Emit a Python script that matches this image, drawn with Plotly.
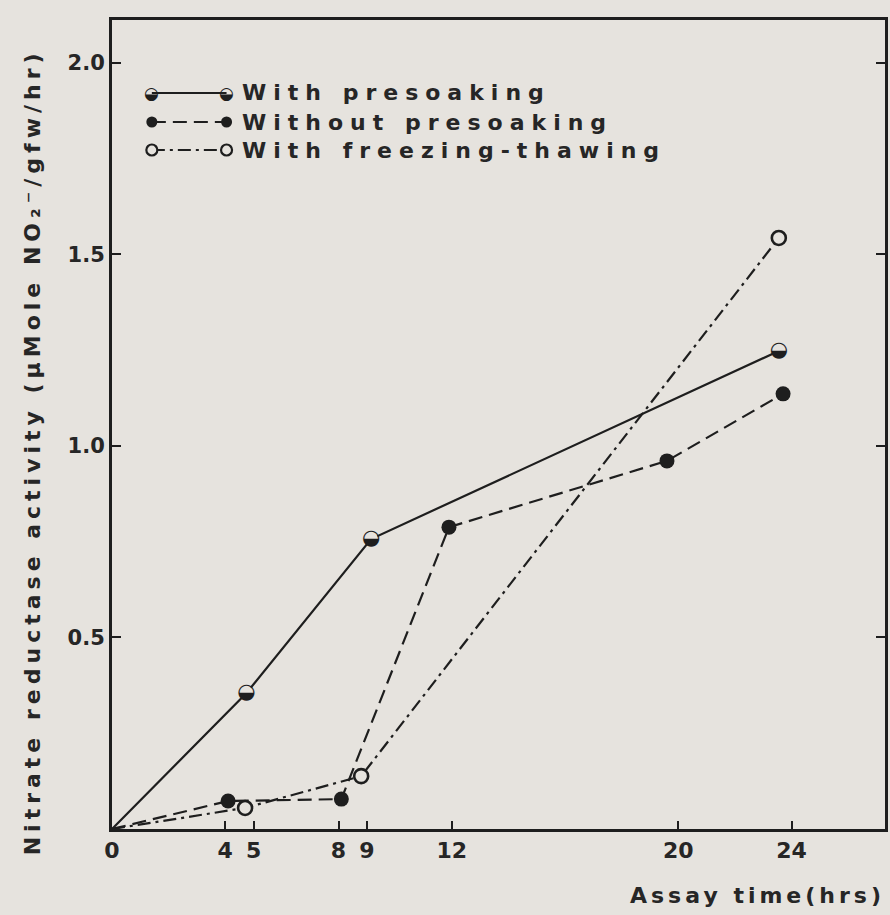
import plotly.graph_objects as go

# ---------------- data ----------------
series_names = ["With presoaking", "Without presoaking", "With freezing-thawing"]

pre_x = [0, 4.75, 9.15, 23.55]
pre_y = [0, 0.355, 0.757, 1.248]

wo_x = [0, 4.1, 8.1, 11.9, 19.6, 23.7]
wo_y = [0, 0.073, 0.078, 0.788, 0.961, 1.136]

fr_x = [0, 4.7, 8.8, 23.55]
fr_y = [0, 0.055, 0.138, 1.543]

x_tickvals = [0, 4, 5, 8, 9, 12, 20, 24]
x_ticktext = ["0", "4", "5", "8", "9", "12", "20", "24"]
y_tickvals = [0.5, 1.0, 1.5, 2.0]
y_ticktext = ["0.5", "1.0", "1.5", "2.0"]

x_title = "Assay time(hrs)"
y_title = "Nitrate reductase activity (μMole NO₂⁻/gfw/hr)"

# ---------------- style ----------------
BG = "#e6e3de"
INK = "#1e1e1e"
TXT = "#262626"
FONT = "DejaVu Sans"
DASH_WO = "14px,7px"
DASH_FR = "13px,5px,3px,5px"


def sizes(n, s):
    return [0] + [s] * (n - 1)


fig = go.Figure()

# With presoaking: solid line, half-filled circles
fig.add_trace(go.Scatter(
    x=pre_x, y=pre_y, mode="lines+markers", name=series_names[0],
    line=dict(color=INK, width=2.2),
    marker=dict(size=sizes(len(pre_x), 14), color=BG, opacity=1, line=dict(width=0)),
    showlegend=False, cliponaxis=False))
fig.add_trace(go.Scatter(
    x=pre_x[1:], y=pre_y[1:], mode="text",
    text=["◒"] * (len(pre_x) - 1), textposition="middle center",
    textfont=dict(family=FONT, size=21, color=INK),
    showlegend=False, hoverinfo="skip", cliponaxis=False))

# Without presoaking: dashed line, filled circles
fig.add_trace(go.Scatter(
    x=wo_x, y=wo_y, mode="lines+markers", name=series_names[1],
    line=dict(color=INK, width=2.2, dash=DASH_WO),
    marker=dict(size=sizes(len(wo_x), 15), color=INK, opacity=1,
                line=dict(width=0, color=INK)),
    showlegend=False, cliponaxis=False))

# With freezing-thawing: dash-dot line, open circles
fig.add_trace(go.Scatter(
    x=fr_x, y=fr_y, mode="lines+markers", name=series_names[2],
    line=dict(color=INK, width=2.2, dash=DASH_FR),
    marker=dict(size=sizes(len(fr_x), 14), color=BG, opacity=1,
                line=dict(width=2.6, color=INK)),
    showlegend=False, cliponaxis=False))

# ---------------- layout ----------------
L, R, T, B = 112, 2, 20, 86
W, H = 890, 915
PW, PH = W - L - R, H - T - B


def px(xp):
    return (xp - L) / PW


def py(yp):
    return (H - B - yp) / PH


shapes = []
annotations = []

# custom legend (markers at both ends of a short line sample)
rows = [93, 122, 150]
dashes = ["solid", DASH_WO, DASH_FR]
xl, xr, xt = 152, 227, 240
for i, (yy, dsh) in enumerate(zip(rows, dashes)):
    shapes.append(dict(type="line", xref="paper", yref="paper",
                       x0=px(xl), x1=px(xr), y0=py(yy), y1=py(yy),
                       line=dict(color=INK, width=2.2, dash=dsh)))
    for xx in (xl, xr):
        if i == 0:
            annotations.append(dict(text="◒", xref="paper", yref="paper",
                                    x=px(xx), y=py(yy), xanchor="center", yanchor="middle",
                                    showarrow=False, font=dict(family=FONT, size=17, color=INK)))
        else:
            shapes.append(dict(type="circle", xref="paper", yref="paper",
                               xsizemode="pixel", ysizemode="pixel",
                               xanchor=px(xx), yanchor=py(yy),
                               x0=-5.5, x1=5.5, y0=-5.5, y1=5.5,
                               fillcolor=INK if i == 1 else BG,
                               line=dict(color=INK, width=2.2 if i == 2 else 0)))
    annotations.append(dict(
        text='<span style="letter-spacing:7px">%s</span>' % series_names[i],
        xref="paper", yref="paper", x=px(xt), y=py(yy),
        xanchor="left", yanchor="middle", showarrow=False,
        font=dict(family=FONT, size=22, color=TXT, weight="bold")))

# axis titles
annotations.append(dict(
    text='<span style="letter-spacing:4px">%s</span>' % x_title,
    xref="paper", yref="paper", x=px(890), y=py(895),
    xanchor="right", yanchor="middle", showarrow=False,
    font=dict(family=FONT, size=22, color=TXT, weight="bold")))
annotations.append(dict(
    text='<span style="letter-spacing:5px">%s</span>' % y_title,
    xref="paper", yref="paper", x=px(32), y=py(452),
    xanchor="center", yanchor="middle", textangle=-90, showarrow=False,
    font=dict(family=FONT, size=22, color=TXT, weight="bold")))

fig.update_layout(
    width=W, height=H,
    margin=dict(l=L, r=R, t=T, b=B, pad=0),
    paper_bgcolor=BG, plot_bgcolor=BG,
    showlegend=False,
    shapes=shapes, annotations=annotations,
    font=dict(family=FONT, color=TXT),
)
fig.update_xaxes(
    range=[0, 27.3], tickmode="array", tickvals=x_tickvals, ticktext=x_ticktext,
    ticks="inside", ticklen=8, tickwidth=2, tickcolor=INK,
    showline=True, linecolor=INK, linewidth=3, mirror=True,
    showgrid=False, zeroline=False,
    tickfont=dict(family=FONT, size=22, color=TXT, weight="bold"))
fig.update_yaxes(
    range=[0, 2.112], tickmode="array", tickvals=y_tickvals, ticktext=y_ticktext,
    ticks="inside", ticklen=9, tickwidth=2, tickcolor=INK,
    showline=True, linecolor=INK, linewidth=3, mirror="ticks",
    showgrid=False, zeroline=False,
    tickfont=dict(family=FONT, size=21, color=TXT, weight="bold"))

fig.write_html(
    "out.html",
    config={"displayModeBar": False},
    post_script="document.body.style.margin='0px';"
                "document.body.style.background='%s';" % BG,
)
